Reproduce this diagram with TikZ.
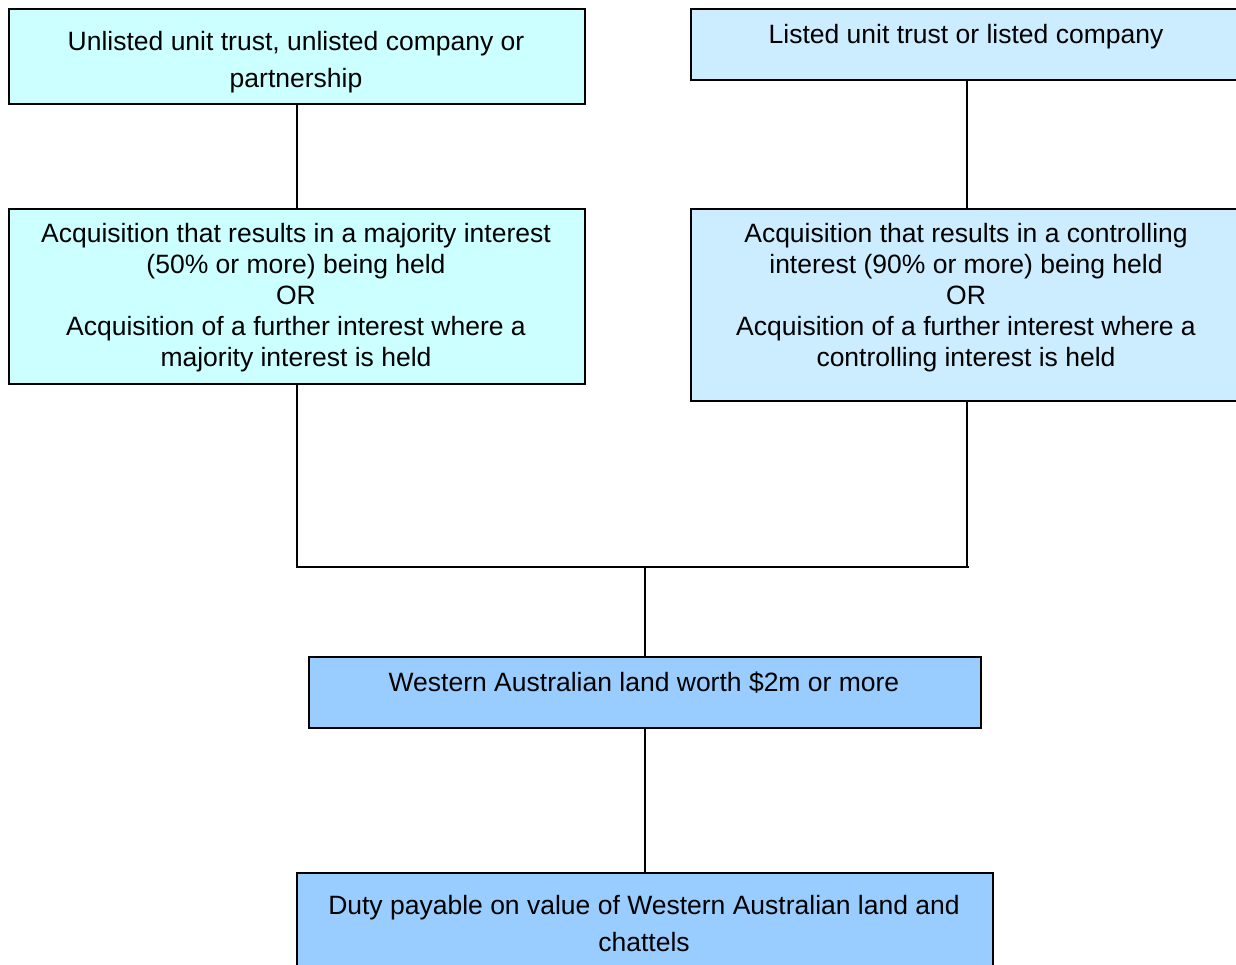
\documentclass[tikz,border=0pt]{standalone}
\usepackage{fontspec}
\setmainfont{Liberation Sans}
\definecolor{cyanbox}{HTML}{CCFFFF}
\definecolor{bluebox}{HTML}{CCECFF}
\definecolor{darkbox}{HTML}{99CCFF}
\begin{document}
\begin{tikzpicture}[x=1pt,y=-1pt,
  box/.style={draw=black,line width=1.8pt,rectangle,inner sep=0pt,anchor=north west},
  txt/.style={align=center,inner sep=0pt,anchor=base,font=\fontsize{26.5}{31}\selectfont},
  wide/.style={font=\fontsize{26.5}{37}\selectfont},
  conn/.style={draw=black,line width=1.7pt}]
\useasboundingbox (0,0) rectangle (1236,964);
\clip (0,0) rectangle (1236,964);
% boxes
\node[box,fill=cyanbox,minimum width=576pt,minimum height=95pt] (b1) at (8,8) {};
\node[box,fill=bluebox,minimum width=552pt,minimum height=71pt] (b2) at (690,8) {};
\node[box,fill=cyanbox,minimum width=576pt,minimum height=175pt] (b3) at (8,208) {};
\node[box,fill=bluebox,minimum width=552pt,minimum height=192pt] (b4) at (690,208) {};
\node[box,fill=darkbox,minimum width=672pt,minimum height=71pt] (b5) at (308,656) {};
\node[box,fill=darkbox,minimum width=696pt,minimum height=120pt] (b6) at (296,872) {};
% texts (anchor base = baseline of the last line)
\node[txt,wide] (t1) at (296,87) {Unlisted unit trust, unlisted company or\\partnership};
\node[txt] (t2) at (966,43) {Listed unit trust or listed company};
\node[txt] (t3) at (296,366) {Acquisition that results in a majority interest\\(50\% or more) being held\\OR\\Acquisition of a further interest where a\\majority interest is held};
\node[txt] (t4) at (966,366) {Acquisition that results in a controlling\\interest (90\% or more) being held\\OR\\Acquisition of a further interest where a\\controlling interest is held};
\node[txt] (t5) at (644,691) {Western Australian land worth \$2m or more};
\node[txt,wide] (t6) at (644,951) {Duty payable on value of Western Australian land and\\chattels};
% connectors
\coordinate (j) at (b5.north |- 0,567);
\coordinate (jr) at (969,567);
\draw[conn] (b1.south) -- (b3.north);
\draw[conn] (b4.north |- b2.south) -- (b4.north);
\draw[conn] (b3.south) |- (jr);
\draw[conn] (b4.south) -- (b4.south |- j);
\draw[conn] (j) -- (b5.north);
\draw[conn] (b5.south) -- (b6.north);
\end{tikzpicture}
\end{document}
